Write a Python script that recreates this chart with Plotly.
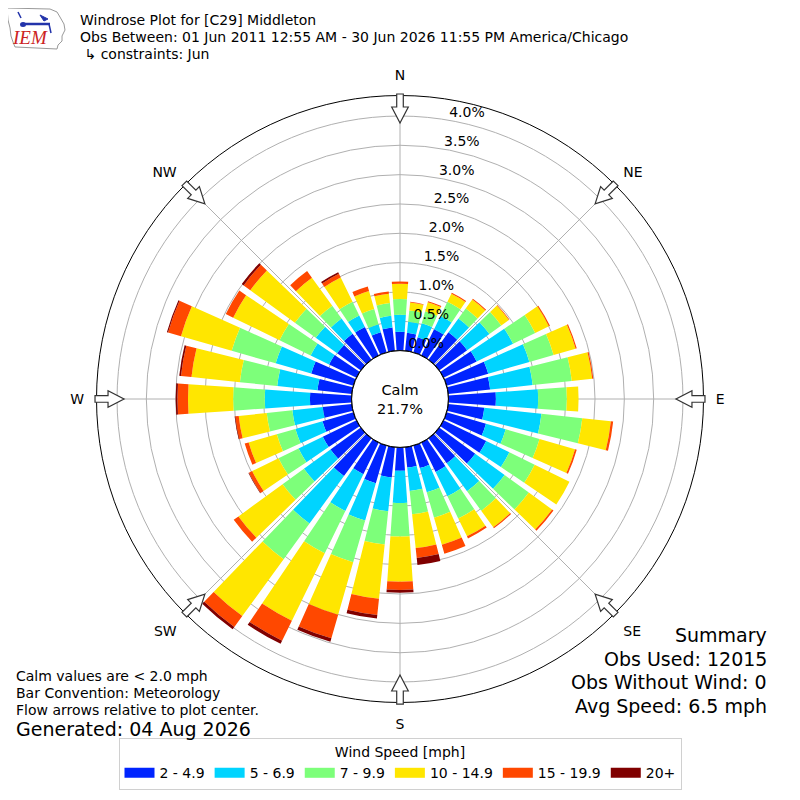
import numpy as np
import plotly.graph_objects as go

# wind directions (deg, meteorological "from") and speed bins
directions = list(range(0, 360, 10))
speed_bins = ["2 - 4.9", "5 - 6.9", "7 - 9.9", "10 - 14.9", "15 - 19.9", "20+"]
bin_colors = ["#0024ff", "#00d4ff", "#7dff7a", "#ffe600", "#ff4800", "#800000"]

# percent of observations per direction, one list per speed bin
pct_2_5 = [0.32, 0.31, 0.27, 0.50, 0.58, 0.59, 0.63, 0.74, 0.72, 0.81, 0.62, 0.70,
           0.81, 0.76, 0.53, 0.56, 0.40, 0.35, 0.40, 0.52, 0.67, 0.60, 0.80, 0.64,
           0.64, 0.55, 0.50, 0.71, 0.59, 0.75, 0.52, 0.50, 0.55, 0.54, 0.36, 0.40]
pct_5_7 = [0.29, 0.19, 0.25, 0.25, 0.29, 0.47, 0.69, 0.73, 0.73, 0.72, 0.98, 0.35,
           0.44, 0.62, 0.59, 0.46, 0.43, 0.40, 0.55, 0.58, 0.66, 0.70, 1.00, 0.56,
           0.46, 0.48, 0.52, 0.77, 0.69, 0.63, 0.35, 0.45, 0.32, 0.22, 0.14, 0.20]
pct_7_10 = [0.27, 0.19, 0.21, 0.27, 0.21, 0.25, 0.42, 0.43, 0.67, 0.49, 0.70, 0.60,
            0.48, 0.51, 0.41, 0.42, 0.45, 0.40, 0.57, 0.57, 0.74, 0.80, 0.75, 0.45,
            0.38, 0.33, 0.44, 0.54, 0.64, 0.78, 0.59, 0.44, 0.27, 0.26, 0.27, 0.22]
pct_10_15 = [0.26, 0.14, 0.16, 0.15, 0.19, 0.16, 0.26, 0.39, 0.35, 0.20, 0.49, 0.63,
             0.66, 0.49, 0.35, 0.34, 0.48, 0.58, 0.77, 0.93, 0.93, 1.28, 1.20, 0.93,
             0.50, 0.50, 0.48, 0.77, 0.83, 0.90, 0.88, 0.94, 0.59, 0.46, 0.32, 0.16]
pct_15_20 = [0.04, 0.01, 0.02, 0.02, 0.02, 0.01, 0.02, 0.02, 0.02, 0.00, 0.04, 0.03,
             0.00, 0.03, 0.02, 0.04, 0.16, 0.17, 0.14, 0.28, 0.42, 0.38, 0.23, 0.10,
             0.06, 0.07, 0.06, 0.18, 0.18, 0.23, 0.14, 0.14, 0.14, 0.07, 0.08, 0.04]
pct_20p = [0.00, 0.00, 0.00, 0.00, 0.00, 0.00, 0.00, 0.00, 0.00, 0.00, 0.00, 0.00,
           0.00, 0.00, 0.00, 0.00, 0.00, 0.12, 0.05, 0.06, 0.06, 0.06, 0.05, 0.00,
           0.01, 0.00, 0.01, 0.03, 0.03, 0.02, 0.00, 0.04, 0.00, 0.03, 0.00, 0.00]
series = [pct_2_5, pct_5_7, pct_7_10, pct_10_15, pct_15_20, pct_20p]

ring_vals = [0.0, 0.5, 1.0, 1.5, 2.0, 2.5, 3.0, 3.5, 4.0]
compass_vals = [0, 45, 90, 135, 180, 225, 270, 315]
compass_text = ["N", "NE", "E", "SE", "S", "SW", "W", "NW"]

calm_pct = 21.7
summary = ["Summary", "Obs Used: 12015", "Obs Without Wind: 0", "Avg Speed: 6.5 mph"]
notes = ["Calm values are < 2.0 mph", "Bar Convention: Meteorology",
         "Flow arrows relative to plot center."]

# page geometry (px); the page body has an 8px margin
OFF = 8
W, H = 784, 784
CX, CY, R = 400, 399, 303.5
HOLE_PX = 48.4
RMAX = 4.35
FONT = "DejaVu Sans"


def fx(x):
    return (x - OFF) / W


def fy(y):
    return 1 - (y - OFF) / H


fig = go.Figure()

for name, vals, col in zip(speed_bins, series, bin_colors):
    fig.add_trace(go.Barpolar(r=vals, theta=directions, width=8, name=name,
                              marker_color=col, marker_line_width=0,
                              showlegend=False, hoverinfo="skip"))

# legend keys drawn as wide thick strokes (like the rectangles in the original)
for name, col in zip(speed_bins, bin_colors):
    fig.add_trace(go.Scatterpolar(r=[None], theta=[None], mode="lines", name=name,
                                  line=dict(color=col, width=10), hoverinfo="skip"))

# black edge of the calm circle
circ = np.linspace(0, 360, 121)
fig.add_trace(go.Scatterpolar(r=np.zeros_like(circ), theta=circ, mode="lines",
                              line=dict(color="black", width=1.2),
                              showlegend=False, hoverinfo="skip"))

# radial labels
fig.add_trace(go.Scatterpolar(r=ring_vals, theta=[10] * len(ring_vals), mode="text",
                              text=["%.1f%%" % v for v in ring_vals],
                              textposition="top right",
                              textfont=dict(family=FONT, size=14, color="black"),
                              showlegend=False, hoverinfo="skip"))

fig.update_layout(
    width=W, height=H,
    margin=dict(l=0, r=0, t=0, b=0),
    paper_bgcolor="white",
    font=dict(family=FONT, size=14, color="black"),
    polar=dict(
        domain=dict(x=[fx(CX - R), fx(CX + R)], y=[fy(CY + R), fy(CY - R)]),
        hole=HOLE_PX / R,
        bgcolor="white",
        barmode="stack",
        radialaxis=dict(range=[0, RMAX], tickvals=ring_vals, showticklabels=False,
                        ticks="", showline=False, gridcolor="#b0b0b0",
                        gridwidth=1, layer="above traces"),
        angularaxis=dict(direction="clockwise", rotation=90,
                         tickmode="array", tickvals=compass_vals,
                         ticktext=compass_text, ticks="outside", ticklen=9,
                         tickcolor="rgba(0,0,0,0)",
                         tickfont=dict(family=FONT, size=14),
                         showline=True, linecolor="black", linewidth=1,
                         gridcolor="#b0b0b0", gridwidth=1, layer="above traces"),
    ),
    legend=dict(orientation="h", x=fx(400), xanchor="center", y=fy(790), yanchor="bottom",
                title=dict(text="Wind Speed [mph]", side="top center",
                           font=dict(family=FONT, size=14)),
                font=dict(family=FONT, size=14),
                bordercolor="#d0d0d0", borderwidth=1, bgcolor="white",
                itemwidth=30, traceorder="normal"),
)

# flow arrows on the outer ring, pointing at the centre
arrow = [(305, -3.3), (292, -3.3), (292, -8.3), (276, 0), (292, 8.3), (292, 3.3), (305, 3.3)]
for ang in compass_vals:
    a = np.radians(ang)
    pts = []
    for s, t in arrow:
        px = CX + s * np.sin(a) + t * np.cos(a)
        py = CY - s * np.cos(a) + t * np.sin(a)
        pts.append("%.4f,%.4f" % (fx(px), fy(py)))
    fig.add_shape(type="path", xref="paper", yref="paper",
                  path="M" + " L".join(pts) + " Z",
                  fillcolor="white", line=dict(color="#333333", width=1.2), layer="above")

# IEM logo (outline of Iowa + station glyph)
iowa = [(7, 8), (50, 9), (57, 12), (60, 17), (64, 24), (65, 30), (62, 36), (62, 41),
        (58, 45), (57, 49), (15, 47), (13, 42), (11, 36), (10, 28), (8, 20), (7, 8)]
fig.add_shape(type="path", xref="paper", yref="paper",
              path="M" + " L".join("%.4f,%.4f" % (fx(x), fy(y)) for x, y in iowa),
              line=dict(color="#999999", width=1))
fig.add_shape(type="line", xref="paper", yref="paper", x0=fx(23), y0=fy(24),
              x1=fx(50), y1=fy(24), line=dict(color="#2233aa", width=2.5))
fig.add_shape(type="circle", xref="paper", yref="paper", x0=fx(20), y0=fy(22),
              x1=fx(26), y1=fy(27), fillcolor="#2233aa", line_width=0)
fig.add_shape(type="path", xref="paper", yref="paper",
              path="M%.4f,%.4f L%.4f,%.4f L%.4f,%.4f Z" % (fx(40), fy(15), fx(48), fy(19), fx(44), fy(21)),
              fillcolor="#2233aa", line=dict(color="#2233aa", width=1))
fig.add_shape(type="line", xref="paper", yref="paper", x0=fx(49), y0=fy(24),
              x1=fx(51), y1=fy(33), line=dict(color="#2233aa", width=1.5))
fig.add_shape(type="line", xref="paper", yref="paper", x0=fx(18), y0=fy(12),
              x1=fx(21), y1=fy(18), line=dict(color="#2233aa", width=1.5))
fig.add_annotation(x=fx(30), y=fy(38), xref="paper", yref="paper", text="IEM",
                   showarrow=False, xanchor="center", yanchor="middle",
                   font=dict(family="Liberation Serif", size=19, color="#cc2222", style="italic"))

# header
header = ["Windrose Plot for [C29] Middleton",
          "Obs Between: 01 Jun 2011 12:55 AM - 30 Jun 2026 11:55 PM America/Chicago",
          " \u21b3 constraints: Jun"]
for i, line in enumerate(header):
    fig.add_annotation(x=fx(78), y=fy(20 + 17 * i), xref="paper", yref="paper",
                       text=line, showarrow=False, xanchor="left", yanchor="middle",
                       font=dict(family=FONT, size=14))

# calm in the middle
fig.add_annotation(x=fx(CX), y=fy(CY), xref="paper", yref="paper",
                   text="Calm<br>%.1f%%" % calm_pct, showarrow=False,
                   font=dict(family=FONT, size=14.5))

# summary (bottom right)
for i, line in enumerate(summary):
    fig.add_annotation(x=fx(769), y=fy(635 + 23.7 * i), xref="paper", yref="paper",
                       text=line, showarrow=False, xanchor="right", yanchor="middle",
                       font=dict(family=FONT, size=19))

# notes (bottom left)
for i, line in enumerate(notes):
    fig.add_annotation(x=fx(14), y=fy(676 + 17 * i), xref="paper", yref="paper",
                       text=line, showarrow=False, xanchor="left", yanchor="middle",
                       font=dict(family=FONT, size=14))
fig.add_annotation(x=fx(14), y=fy(729), xref="paper", yref="paper",
                   text="Generated: 04 Aug 2026", showarrow=False, xanchor="left",
                   yanchor="middle", font=dict(family=FONT, size=19))

fig.write_html("out.html")
